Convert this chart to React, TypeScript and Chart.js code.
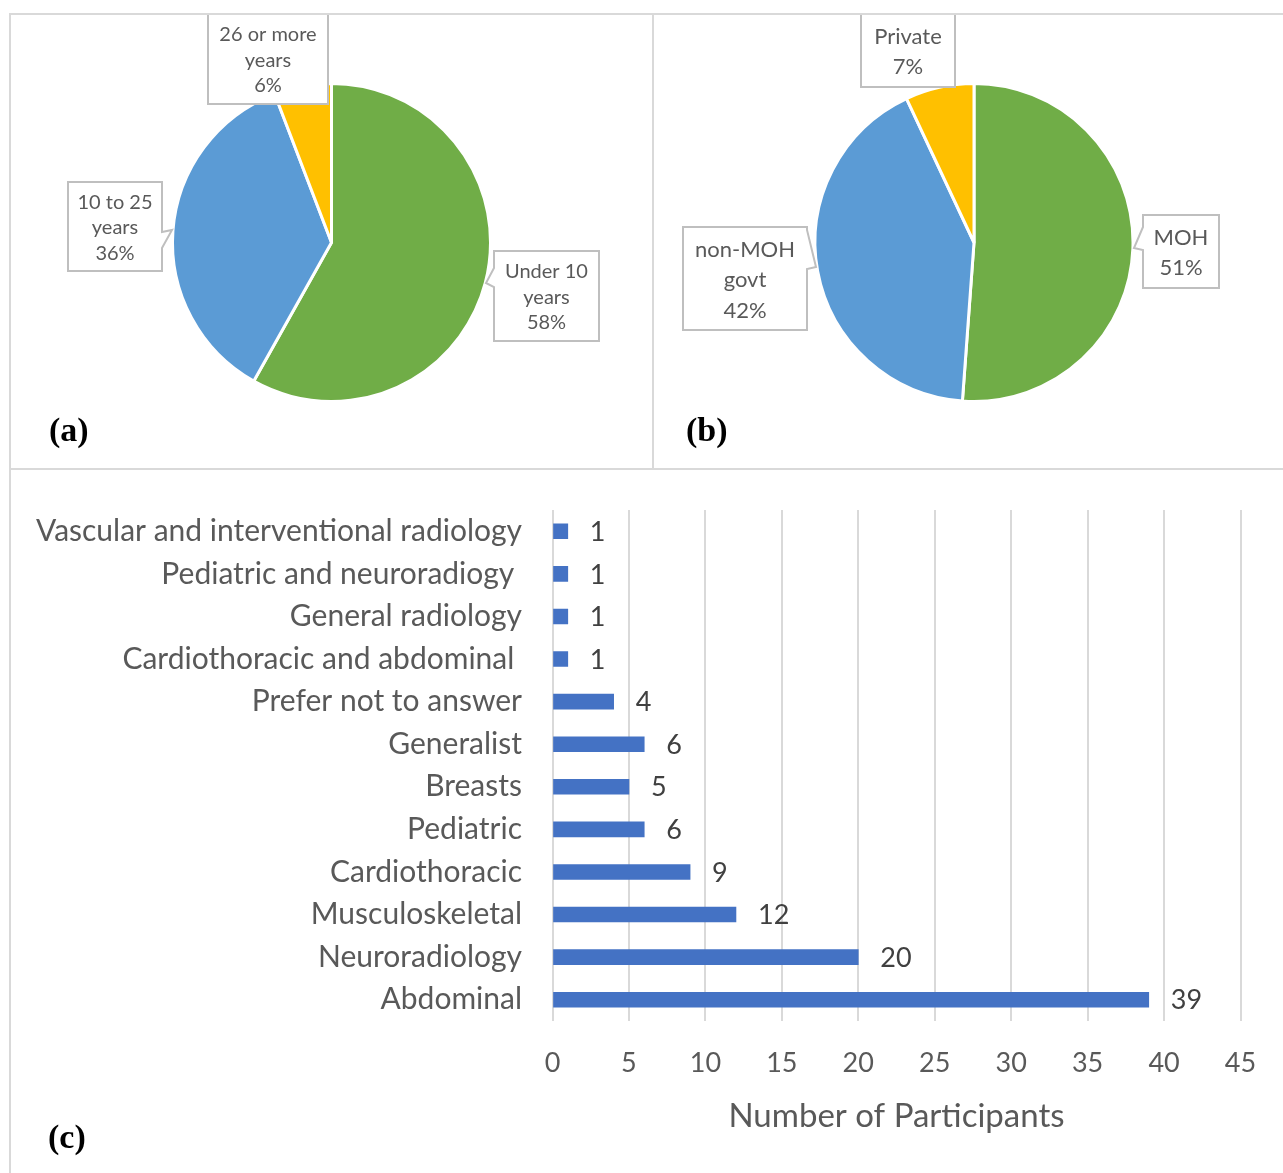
import React, { useEffect, useRef } from 'react';
import { Chart, registerables } from 'chart.js';

Chart.register(...registerables);

// ---------- data ----------
// (a) years of experience — estimated participant counts (shown as percentages)
const tenureLabels = ['Under 10 years', '10 to 25 years', '26 or more years'];
const tenureLines = [['Under 10', 'years'], ['10 to 25', 'years'], ['26 or more', 'years']];
const tenureValues = [50, 31, 5];

// (b) sector — estimated participant counts (shown as percentages)
const sectorLabels = ['MOH', 'non-MOH govt', 'Private'];
const sectorLines = [['MOH'], ['non-MOH', 'govt'], ['Private']];
const sectorValues = [44, 36, 6];

// (c) subspecialty
const specialtyLabels = [
  'Vascular and interventional radiology',
  'Pediatric and neuroradiogy ',
  'General radiology',
  'Cardiothoracic and abdominal ',
  'Prefer not to answer',
  'Generalist',
  'Breasts',
  'Pediatric',
  'Cardiothoracic',
  'Musculoskeletal',
  'Neuroradiology',
  'Abdominal',
];
const specialtyValues = [1, 1, 1, 1, 4, 6, 5, 6, 9, 12, 20, 39];
const xAxisMin = 0;
const xAxisMax = 45;
const xAxisStep = 5;
const xAxisTitle = 'Number of Participants';

// ---------- styles ----------
const SLICE_COLORS = ['#70AD47', '#5B9BD5', '#FFC000'];
const BAR_COLOR = '#4472C4';
const TEXT = '#595959';
const DARK_TEXT = '#404040';
const GRID = '#d9d9d9';
const FONT = 'Lato, "Open Sans", sans-serif';

type Wedge = { side: 'left' | 'right'; y1: number; y2: number; tx: number; ty: number };
type Callout = { dx: number; dy: number; w: number; h: number; wedge?: Wedge };

const TENURE_CALLOUTS: Callout[] = [
  { dx: 162.5, dy: 8.5, w: 105, h: 90, wedge: { side: 'left', y1: 25.5, y2: 44.5, tx: 154.5, ty: 40.5 } },
  { dx: -263.5, dy: -60.5, w: 94, h: 89, wedge: { side: 'right', y1: -10.5, y2: 5.5, tx: -159.5, ty: -12.5 } },
  { dx: -123.5, dy: -228.5, w: 120, h: 90 },
];
const SECTOR_CALLOUTS: Callout[] = [
  { dx: 169, dy: -27.5, w: 76, h: 73, wedge: { side: 'left', y1: -15.5, y2: 7.5, tx: 160, ty: 5.5 } },
  { dx: -291, dy: -15.5, w: 124, h: 103, wedge: { side: 'right', y1: -12.5, y2: 26.5, tx: -158, ty: 24.5 } },
  { dx: -113, dy: -228.5, w: 94, h: 73 },
];

function calloutPlugin(lines: string[][], layout: Callout[], fontSize: number, lineH: number) {
  return {
    id: 'callouts',
    afterDatasetsDraw(chart: any) {
      const meta = chart.getDatasetMeta(0);
      const ctx: CanvasRenderingContext2D = chart.ctx;
      const values = chart.data.datasets[0].data as number[];
      const total = values.reduce((a, b) => a + b, 0);
      meta.data.forEach((arc: any, i: number) => {
        const cx = arc.x;
        const cy = arc.y;
        const L = layout[i];
        const x0 = cx + L.dx;
        const y0 = cy + L.dy;
        const x1 = x0 + L.w;
        const y1 = y0 + L.h;
        ctx.save();
        ctx.beginPath();
        ctx.moveTo(x0, y0);
        ctx.lineTo(x1, y0);
        if (L.wedge && L.wedge.side === 'right') {
          ctx.lineTo(x1, cy + L.wedge.y1);
          ctx.lineTo(cx + L.wedge.tx, cy + L.wedge.ty);
          ctx.lineTo(x1, cy + L.wedge.y2);
        }
        ctx.lineTo(x1, y1);
        ctx.lineTo(x0, y1);
        if (L.wedge && L.wedge.side === 'left') {
          ctx.lineTo(x0, cy + L.wedge.y2);
          ctx.lineTo(cx + L.wedge.tx, cy + L.wedge.ty);
          ctx.lineTo(x0, cy + L.wedge.y1);
        }
        ctx.closePath();
        ctx.fillStyle = '#ffffff';
        ctx.fill();
        ctx.strokeStyle = '#bfbfbf';
        ctx.lineWidth = 2;
        ctx.stroke();
        const txt = [...lines[i], `${Math.round((values[i] / total) * 100)}%`];
        ctx.fillStyle = TEXT;
        ctx.font = `${fontSize}px ${FONT}`;
        ctx.textAlign = 'center';
        ctx.textBaseline = 'middle';
        const midX = (x0 + x1) / 2;
        const midY = (y0 + y1) / 2 + 1.5;
        const startY = midY - ((txt.length - 1) * lineH) / 2;
        txt.forEach((t, k) => ctx.fillText(t, midX, startY + k * lineH));
        ctx.restore();
      });
    },
  };
}

const barLabelPlugin = {
  id: 'barLabels',
  afterDatasetsDraw(chart: any) {
    const ctx: CanvasRenderingContext2D = chart.ctx;
    const meta = chart.getDatasetMeta(0);
    const values = chart.data.datasets[0].data as number[];
    ctx.save();
    ctx.font = `27px ${FONT}`;
    ctx.fillStyle = DARK_TEXT;
    ctx.textAlign = 'left';
    ctx.textBaseline = 'middle';
    meta.data.forEach((bar: any, i: number) => {
      ctx.fillText(String(values[i]), bar.x + 22, bar.y + 1);
    });
    ctx.restore();
  },
};

function PieChart(props: {
  width: number; height: number; labels: string[]; values: number[]; lines: string[][];
  callouts: Callout[]; padding: { left: number; right: number; top: number; bottom: number };
  fontSize: number; lineH: number;
}) {
  const ref = useRef<HTMLCanvasElement>(null);
  useEffect(() => {
    if (!ref.current) return;
    const chart = new Chart(ref.current, {
      type: 'pie',
      data: {
        labels: props.labels,
        datasets: [{ data: props.values, backgroundColor: SLICE_COLORS, borderColor: '#ffffff', borderWidth: 3 }],
      },
      options: {
        responsive: false,
        animation: false,
        radius: 159,
        layout: { padding: props.padding },
        plugins: { legend: { display: false }, tooltip: { enabled: false } },
      } as any,
      plugins: [calloutPlugin(props.lines, props.callouts, props.fontSize, props.lineH)],
    });
    return () => chart.destroy();
  }, []);
  return <canvas ref={ref} width={props.width} height={props.height} style={{ width: props.width, height: props.height }} />;
}

function BarChart(props: { width: number; height: number }) {
  const ref = useRef<HTMLCanvasElement>(null);
  useEffect(() => {
    if (!ref.current) return;
    const chart = new Chart(ref.current, {
      type: 'bar',
      data: {
        labels: specialtyLabels,
        datasets: [{ data: specialtyValues, backgroundColor: BAR_COLOR, barThickness: 15 }],
      },
      options: {
        indexAxis: 'y',
        responsive: false,
        animation: false,
        layout: { padding: { left: 0, right: 42.5, top: 40, bottom: 37.2 } },
        plugins: { legend: { display: false }, tooltip: { enabled: false } },
        scales: {
          x: {
            min: xAxisMin,
            max: xAxisMax,
            ticks: { stepSize: xAxisStep, color: TEXT, font: { family: FONT, size: 27 }, padding: 25.8 },
            grid: { color: GRID, lineWidth: 2, drawTicks: false },
            border: { display: false },
            title: {
              display: true, text: xAxisTitle, color: TEXT,
              font: { family: FONT, size: 33 }, padding: { top: 18, bottom: 0 },
            },
            afterFit: (s: any) => { s.height = 114.8; },
          },
          y: {
            ticks: { color: TEXT, font: { family: FONT, size: 30, lineHeight: 0.5 }, padding: 30.5 },
            grid: { display: false, drawTicks: false },
            border: { display: false },
            afterFit: (s: any) => { s.width = 552.5; },
          },
        },
      } as any,
      plugins: [barLabelPlugin],
    });
    return () => chart.destroy();
  }, []);
  return <canvas ref={ref} width={props.width} height={props.height} style={{ width: props.width, height: props.height }} />;
}

const letterStyle: React.CSSProperties = {
  position: 'absolute',
  fontFamily: '"Liberation Serif", serif',
  fontWeight: 'bold',
  fontSize: 34,
  lineHeight: '36px',
  color: '#000',
};

const line = (l: number, t: number, w: number, h: number): React.CSSProperties => ({
  position: 'absolute', left: l, top: t, width: w, height: h, background: GRID,
});

export default function App() {
  return (
    <div style={{ position: 'absolute', left: 0, top: 0, width: 1283, height: 1173, background: '#fff', overflow: 'hidden' }}>
      <div style={{ position: 'absolute', left: 0, top: 0 }}>
        <PieChart
          width={652} height={470} labels={tenureLabels} values={tenureValues} lines={tenureLines}
          callouts={TENURE_CALLOUTS} padding={{ left: 166.5, right: 155.5, top: 77.5, bottom: 62.5 }}
          fontSize={20} lineH={25.5}
        />
      </div>
      <div style={{ position: 'absolute', left: 652, top: 0 }}>
        <PieChart
          width={631} height={470} labels={sectorLabels} values={sectorValues} lines={sectorLines}
          callouts={SECTOR_CALLOUTS} padding={{ left: 157, right: 144, top: 77.5, bottom: 62.5 }}
          fontSize={22} lineH={30.5}
        />
      </div>
      <div style={{ position: 'absolute', left: 0, top: 470 }}>
        <BarChart width={1283} height={703} />
      </div>
      <div style={line(9, 13, 1274, 2)} />
      <div style={line(9, 13, 2, 1160)} />
      <div style={line(652, 13, 2, 457)} />
      <div style={line(9, 468, 1274, 2)} />
      <div style={{ ...letterStyle, left: 49, top: 412 }}>(a)</div>
      <div style={{ ...letterStyle, left: 686, top: 412 }}>(b)</div>
      <div style={{ ...letterStyle, left: 48, top: 1119 }}>(c)</div>
    </div>
  );
}
